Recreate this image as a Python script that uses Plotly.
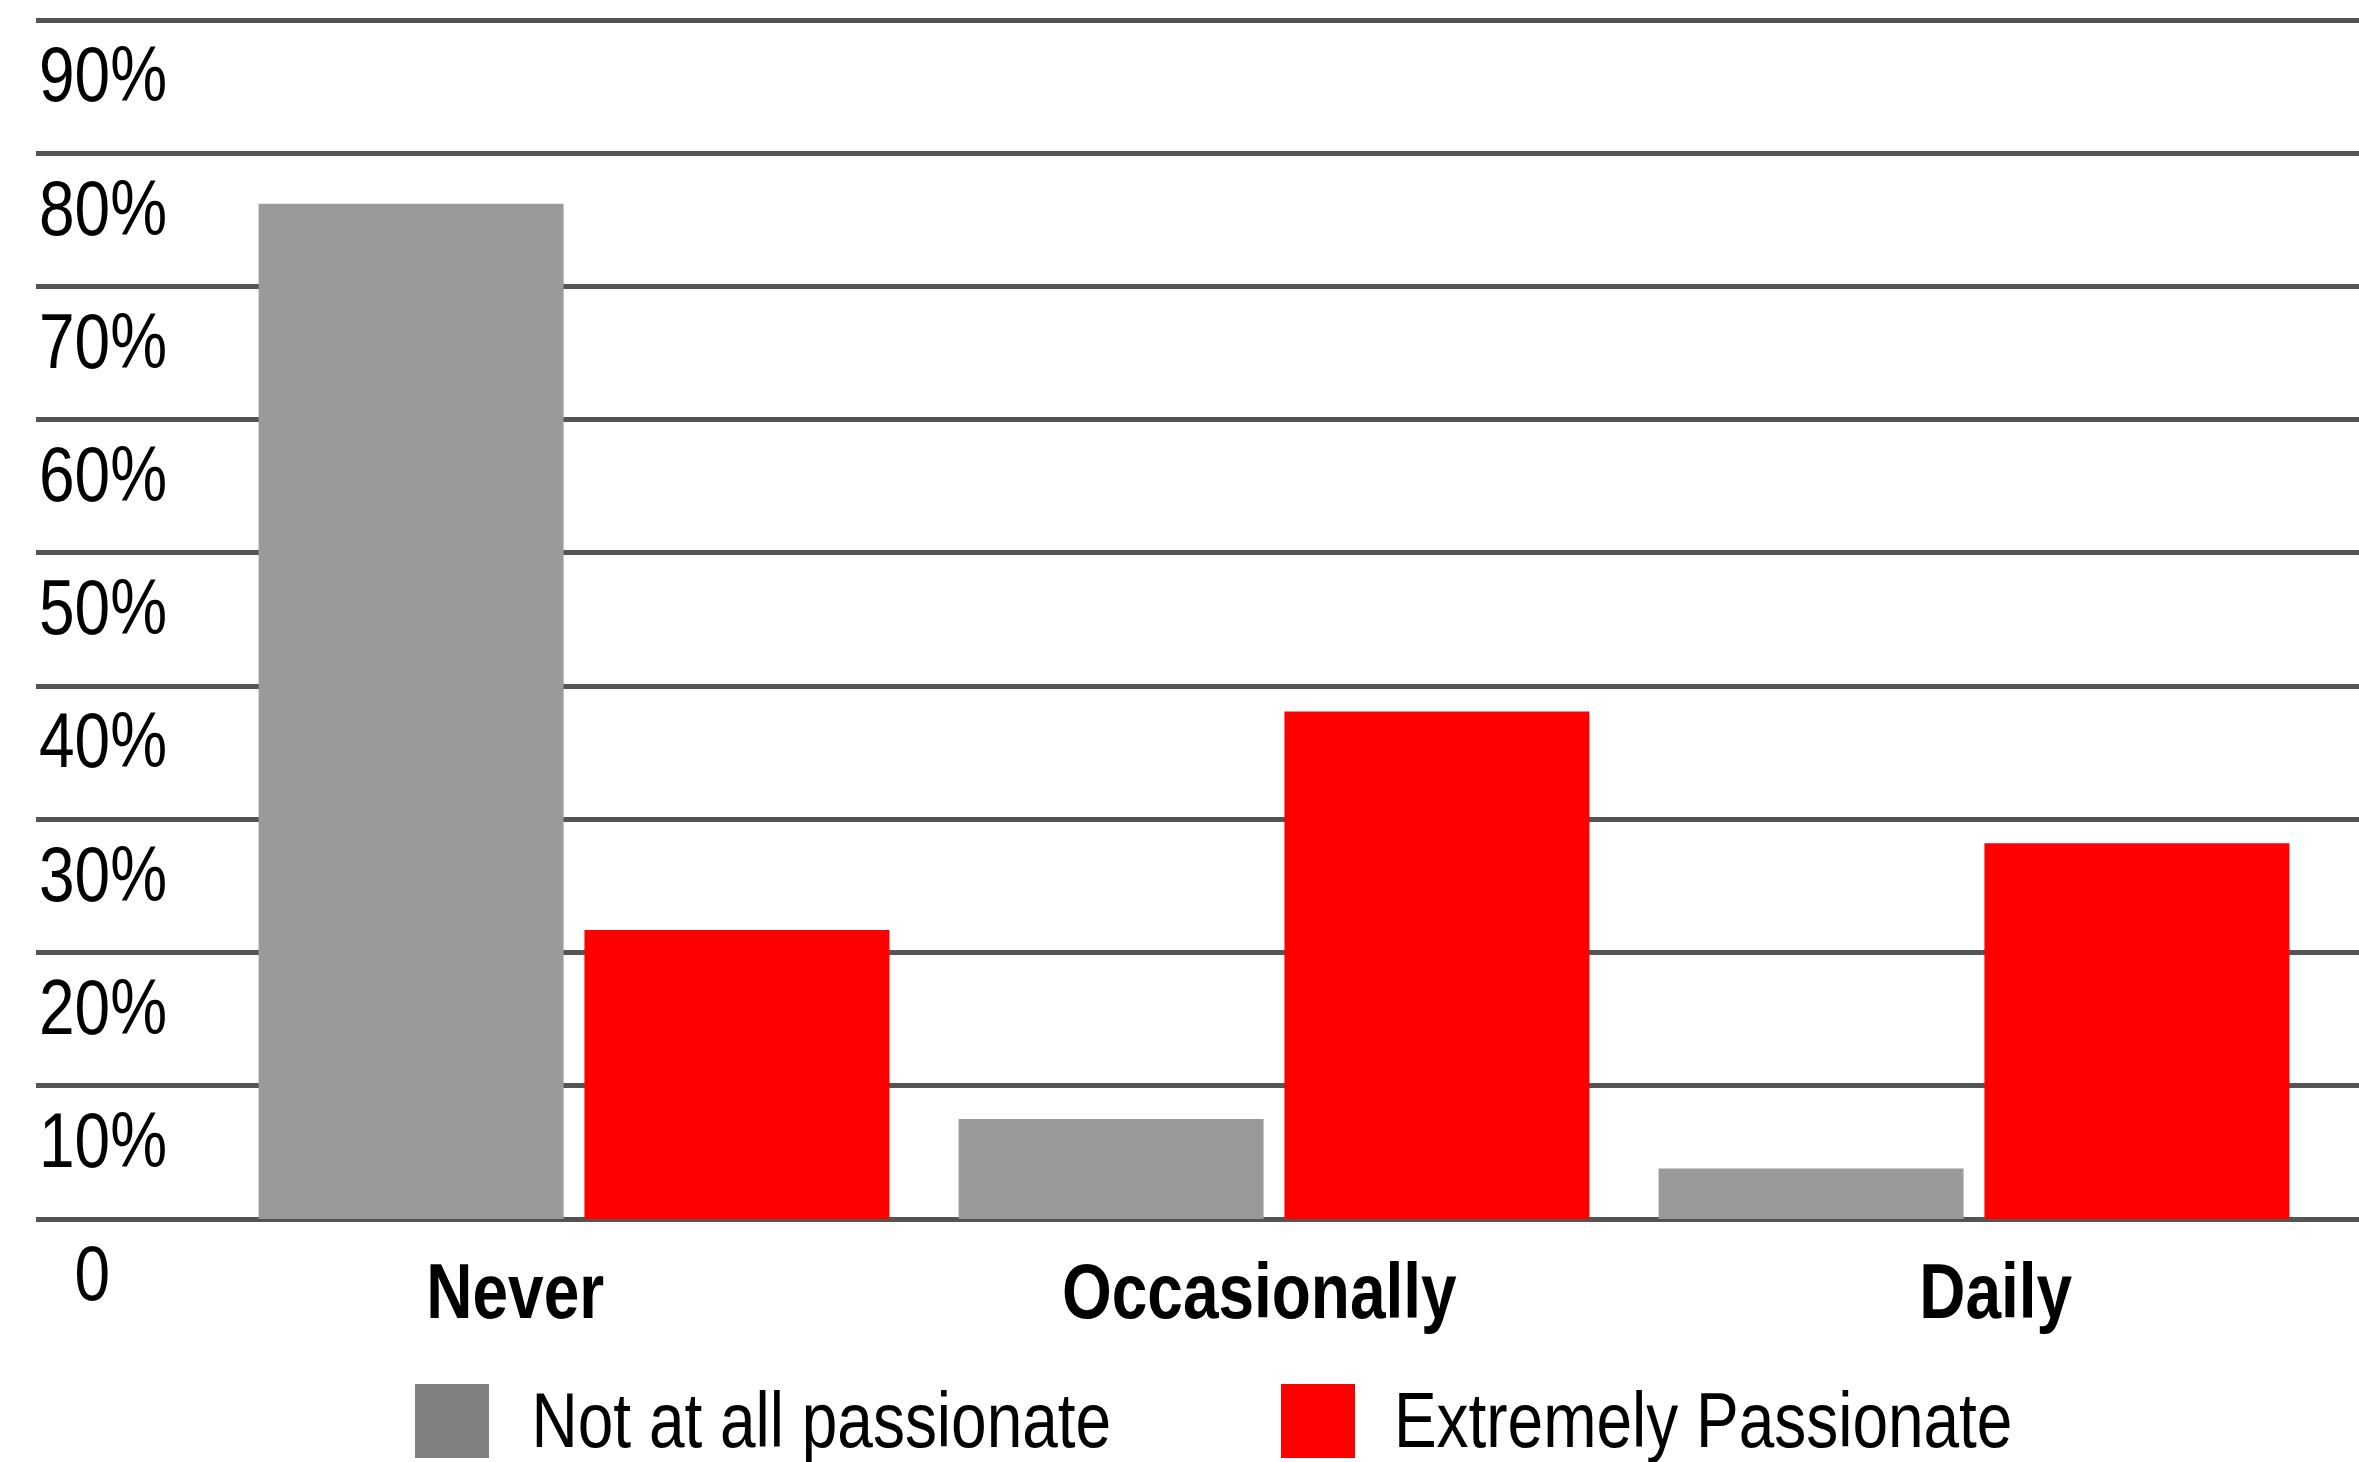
import plotly.graph_objects as go

categories = ["Never", "Occasionally", "Daily"]
series_names = ["Not at all passionate", "Extremely Passionate"]
not_passionate = [76.2, 7.5, 3.8]
extremely_passionate = [21.7, 38.1, 28.2]
y_tick_values = [0, 10, 20, 30, 40, 50, 60, 70, 80, 90]
y_tick_labels = ["\u00a0\u00a00", "10%", "20%", "30%", "40%", "50%", "60%", "70%", "80%", "90%"]

W, H = 2359, 1462
ML, MR, MT, MB = 36, 0, 16, 243
PW = W - ML - MR
PH = H - MT - MB

FONT = "Liberation Sans, Arial, sans-serif"
BAR_COLORS = ["#9a9a9a", "#ff0000"]
LEGEND_COLORS = ["#808080", "#ff0000"]
GRID = "#545454"
CONDENSE = 0.82

x_pos = list(range(len(categories)))
label_pos = [-0.084, 0.979, 2.031]

fig = go.Figure()
fig.add_trace(go.Bar(x=x_pos, y=not_passionate, name=series_names[0],
                     marker=dict(color=BAR_COLORS[0], line=dict(width=0))))
fig.add_trace(go.Bar(x=x_pos, y=extremely_passionate, name=series_names[1],
                     marker=dict(color=BAR_COLORS[1], line=dict(width=0))))

def px_x(p):
    return (p - ML) / PW

def px_y(p):
    return (H - MB - p) / PH

shapes = []
annotations = []
legend_sq = [(415, 1384), (1281, 1384)]
legend_txt_cx = [821, 1703]
for i, name in enumerate(series_names):
    sx, sy = legend_sq[i]
    shapes.append(dict(type="rect", xref="paper", yref="paper",
                       x0=px_x(sx), x1=px_x(sx + 74), y0=px_y(sy + 74), y1=px_y(sy),
                       fillcolor=LEGEND_COLORS[i], line=dict(width=0), layer="above"))
    annotations.append(dict(text=name, xref="paper", yref="paper",
                            x=px_x(legend_txt_cx[i]), y=px_y(1420),
                            xanchor="center", yanchor="middle", showarrow=False,
                            font=dict(family=FONT, size=78, color="#000000")))

fig.update_layout(
    width=W, height=H,
    margin=dict(l=ML, r=MR, t=MT, b=MB, pad=0),
    paper_bgcolor="white", plot_bgcolor="white",
    barmode="group", bargap=0.069, bargroupgap=0.064,
    showlegend=False,
    shapes=shapes, annotations=annotations,
    xaxis=dict(range=[-0.7686, 2.55], tickmode="array", tickvals=label_pos,
               ticktext=categories, showgrid=False, zeroline=False, showline=False,
               ticks="", ticklabelstandoff=20,
               tickfont=dict(family=FONT, size=78, color="#000000", weight="bold"),
               fixedrange=True),
    yaxis=dict(range=[0, 90.3], tickmode="array", tickvals=y_tick_values,
               ticktext=y_tick_labels, showgrid=True, gridcolor=GRID, gridwidth=5,
               zeroline=True, zerolinecolor=GRID, zerolinewidth=5, showline=False,
               ticks="", ticklabelposition="inside", ticklabelshift=54,
               ticklabeloverflow="allow",
               tickfont=dict(family=FONT, size=78, color="#000000"),
               fixedrange=True),
)

post = (
    "document.body.style.margin='0';document.body.style.overflow='hidden';"
    "var gd=document.getElementById('{plot_id}');"
    "gd.querySelectorAll('text').forEach(function(t){"
    "var L=t.getComputedTextLength();"
    "if(L>0){t.setAttribute('textLength',L*%s);t.setAttribute('lengthAdjust','spacingAndGlyphs');}"
    "});" % CONDENSE
)
fig.write_html("out.html", post_script=post, config={"displayModeBar": False})
